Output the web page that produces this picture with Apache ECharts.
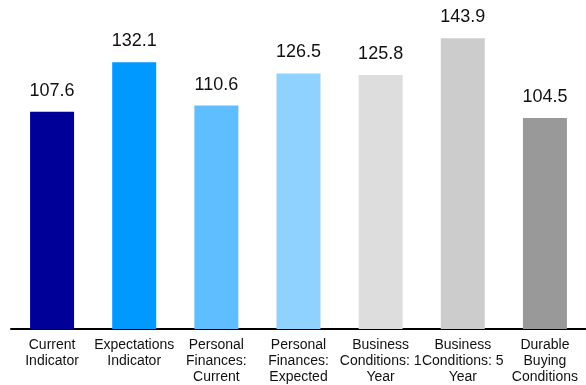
<!DOCTYPE html>
<html>
<head>
<meta charset="utf-8">
<script src="https://cdn.jsdelivr.net/npm/echarts@6/dist/echarts.min.js"></script>
<style>html,body{margin:0;padding:0;background:#fff}#c{width:586px;height:385px}</style>
</head>
<body>
<div id="c"></div>
<script>
const categories = ['Current\nIndicator', 'Expectations\nIndicator', 'Personal\nFinances:\nCurrent', 'Personal\nFinances:\nExpected', 'Business\nConditions: 1\nYear', 'Business\nConditions: 5\nYear', 'Durable\nBuying\nConditions'];
const values = [107.6, 132.1, 110.6, 126.5, 125.8, 143.9, 104.5];
const colors = ['#000099', '#0099FF', '#5EBEFF', '#8FD2FF', '#DDDDDD', '#CCCCCC', '#999999'];

const chart = echarts.init(document.getElementById('c'), null, {renderer: 'canvas'});
chart.setOption({
  animation: false,
  grid: {left: 11, top: 5.8, width: 581, height: 323.7, containLabel: false},
  xAxis: {
    type: 'category',
    data: categories,
    axisLine: {lineStyle: {color: '#000', width: 2}},
    axisTick: {show: false},
    axisLabel: {interval: 0, color: '#111', fontFamily: 'Liberation Sans', fontSize: 14, lineHeight: 16, margin: 8}
  },
  yAxis: {type: 'value', min: 0, max: 160, show: false, splitLine: {show: false}},
  series: [{
    type: 'bar',
    barWidth: 44,
    data: values.map((v, i) => ({value: v, itemStyle: {color: colors[i]}})),
    label: {show: true, position: 'top', distance: 12, color: '#111', fontFamily: 'Liberation Sans', fontSize: 18, formatter: p => p.value.toFixed(1)}
  }]
});
</script>
</body>
</html>
